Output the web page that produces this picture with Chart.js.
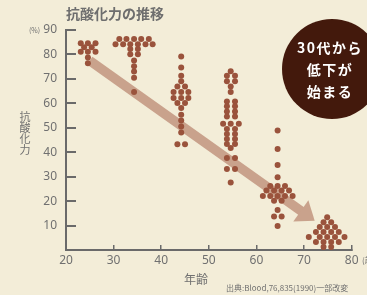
<!DOCTYPE html>
<html lang="ja">
<head>
<meta charset="utf-8">
<title>抗酸化力の推移</title>
<script src="https://cdn.jsdelivr.net/npm/chart.js@4.4.1/dist/chart.umd.min.js"></script>
<style>
  html, body { margin: 0; padding: 0; }
  body {
    width: 367px; height: 295px; overflow: hidden; position: relative;
    background: #f3edd8;
    font-family: "Noto Sans CJK JP", "Noto Sans", sans-serif;
    color: #707070;
  }
  #chart { position: absolute; left: 0; top: 0; }
  .title { position: absolute; left: 66px; top: 6px; font-size: 14px; font-weight: bold; color: #6e6e6e; line-height: 1; white-space: nowrap; }
  .ylabel { position: absolute; left: 19px; top: 111px; font-size: 11px; line-height: 1; writing-mode: vertical-rl; letter-spacing: 0; }
  .unit { position: absolute; left: 29px; top: 27px; font-size: 7px; line-height: 1; }
  .unit2 { position: absolute; left: 362px; top: 256px; font-size: 8px; line-height: 1; white-space: nowrap; }
  .xlabel { position: absolute; left: 184px; top: 273px; font-size: 12px; line-height: 1; }
  .source { position: absolute; left: 226px; top: 284px; font-size: 8px; line-height: 1; white-space: nowrap; }
  .badge {
    position: absolute; left: 282px; top: 19px; width: 100px; height: 100px;
    border-radius: 50%; background: #43190c; color: #fff;
    display: flex; flex-direction: column; justify-content: center; align-items: center;
    font-size: 14px; font-weight: bold; line-height: 22px; letter-spacing: 1.5px;
  }
  .badge span { display: block; white-space: nowrap; margin-left: -4px; }
</style>
</head>
<body>
<canvas id="chart" width="367" height="295"></canvas>
<div class="title">抗酸化力の推移</div>
<div class="unit">(%)</div>
<div class="ylabel">抗酸化力</div>
<div class="unit2">(歳)</div>
<div class="xlabel">年齢</div>
<div class="source">出典:Blood,76,835(1990)一部改変</div>
<div class="badge"><span>30代から</span><span>低下が</span><span>始まる</span></div>

<script>
// 20代
const age20s = [23.1, 24.6, 26.2, 23.8, 25.4, 23.1, 24.6, 26.2, 24.6, 24.6];
const val20s = [84.6, 84.6, 84.6, 82.9, 82.9, 81.1, 81.1, 81.1, 78.7, 76.4];

// 30代
const age30s = [31.2, 32.7, 34.3, 35.8, 37.4,
                30.4, 32.0, 33.5, 35.1, 36.7, 38.2,
                33.5, 35.1, 33.5, 35.1,
                34.3, 34.3, 34.3, 34.3, 34.3];
const val30s = [86.3, 86.3, 86.3, 86.3, 86.3,
                84.2, 84.2, 84.2, 84.2, 84.2, 84.2,
                82.2, 82.2, 80.1, 80.1,
                77.5, 75.2, 73.0, 70.5, 64.6];

// 40代
const age40s = [44.2, 44.2, 44.2, 44.2,
                43.4, 45.0, 42.6, 44.2, 45.7, 42.6, 44.2, 45.7, 43.4, 45.0,
                44.2, 44.2, 44.2, 44.2, 44.2, 43.4, 45.0];
const val40s = [79.2, 74.7, 71.3, 69.0,
                66.9, 66.9, 64.6, 64.6, 64.6, 62.2, 62.2, 62.2, 60.1, 60.1,
                58.1, 55.3, 53.0, 50.5, 48.1, 43.3, 43.3];

// 50代
const age50s = [54.6, 53.8, 55.5, 53.8, 55.5, 54.6, 54.6,
                53.8, 55.5, 53.8, 55.5, 53.8, 55.5, 53.8, 55.5,
                53.0, 54.6, 56.3,
                53.8, 55.5, 53.8, 55.5, 53.8, 55.5, 53.8, 55.5,
                54.6, 53.8, 55.5, 53.8, 55.5, 54.6];
const val50s = [73.1, 71.3, 71.3, 69.0, 69.0, 66.9, 64.6,
                60.8, 60.8, 58.8, 58.8, 56.7, 56.7, 54.6, 54.6,
                51.6, 51.6, 51.6,
                49.5, 49.5, 47.5, 47.5, 45.4, 45.4, 43.4, 43.4,
                41.7, 37.6, 37.6, 33.1, 33.1, 27.6];

// 60代
const age60s = [64.45, 64.45, 64.45, 64.45,
                62.9, 64.45, 66.0,
                62.1, 63.7, 65.3, 66.85,
                61.35, 62.9, 64.45, 66.0, 67.6,
                63.7, 65.3, 64.45, 63.7, 65.3, 64.45];
const val60s = [48.9, 41.3, 34.8, 29.8,
                26.2, 26.2, 26.2,
                24.3, 24.3, 24.3, 24.3,
                22.1, 22.1, 22.1, 22.1, 22.1,
                20.1, 20.1, 16.4, 13.7, 13.7, 9.8];

// 70代
const age70s = [74.86, 74.1, 75.7, 73.3, 74.86, 76.5,
                72.5, 74.1, 75.7, 77.3,
                71.0, 73.3, 74.86, 76.5, 78.5,
                72.5, 74.1, 75.7, 77.3,
                74.1, 75.7];
const val70s = [13.4, 11.4, 11.4, 9.4, 9.4, 9.4,
                7.4, 7.4, 7.4, 7.4,
                5.3, 5.3, 5.3, 5.3, 5.3,
                3.3, 3.3, 3.3, 3.3,
                1.2, 1.2];

const groups = [
  [age20s, val20s], [age30s, val30s], [age40s, val40s],
  [age50s, val50s], [age60s, val60s], [age70s, val70s]
];

// 矢印 (年齢, %)
const arrowFrom = [24.97, 77.5];
const arrowTo = [72.24, 12.0];

const dotColor = '#9a533c';
const axisColor = '#6a6a6a';
const labelColor = '#707070';

const arrowPlugin = {
  id: 'arrow',
  beforeDatasetsDraw(chart) {
    const ctx = chart.ctx;
    const sx = chart.scales.x, sy = chart.scales.y;
    const x0 = sx.getPixelForValue(arrowFrom[0]), y0 = sy.getPixelForValue(arrowFrom[1]);
    const x1 = sx.getPixelForValue(arrowTo[0]), y1 = sy.getPixelForValue(arrowTo[1]);
    const ang = Math.atan2(y1 - y0, x1 - x0);
    const headLen = 17, headW = 13;
    const bx = x1 - Math.cos(ang) * headLen, by = y1 - Math.sin(ang) * headLen;
    ctx.save();
    ctx.strokeStyle = '#c9a28c';
    ctx.fillStyle = '#c9a28c';
    ctx.lineWidth = 9.5;
    ctx.beginPath();
    ctx.moveTo(x0, y0);
    ctx.lineTo(bx + Math.cos(ang), by + Math.sin(ang));
    ctx.stroke();
    ctx.beginPath();
    ctx.moveTo(x1, y1);
    ctx.lineTo(bx + Math.sin(ang) * headW, by - Math.cos(ang) * headW);
    ctx.lineTo(bx - Math.sin(ang) * headW, by + Math.cos(ang) * headW);
    ctx.closePath();
    ctx.fill();
    ctx.restore();
  }
};

const chart = new Chart(document.getElementById('chart'), {
  type: 'scatter',
  data: {
    datasets: groups.map(g => ({
      data: g[0].map((a, i) => ({ x: a, y: g[1][i] })),
      backgroundColor: dotColor,
      borderWidth: 0,
      pointRadius: 3
    }))
  },
  options: {
    responsive: false,
    animation: false,
    layout: { padding: { top: 30, right: 11, left: 0, bottom: 0 } },
    plugins: { legend: { display: false }, tooltip: { enabled: false } },
    scales: {
      x: {
        type: 'linear', min: 20, max: 80,
        ticks: { stepSize: 10, color: labelColor, padding: 8.5, font: { family: 'Noto Sans', size: 12 } },
        grid: { drawOnChartArea: false, tickLength: -5, color: axisColor, lineWidth: 1.5 },
        border: { color: axisColor, width: 2 },
        afterFit(s) { s.height = 45; }
      },
      y: {
        min: 0, max: 90,
        ticks: {
          stepSize: 10, color: labelColor, padding: 19,
          font: { family: 'Noto Sans', size: 12 },
          callback: v => v === 0 ? '' : v
        },
        grid: { drawOnChartArea: false, tickLength: -10, color: axisColor, lineWidth: 2 },
        border: { color: axisColor, width: 2 },
        afterFit(s) { s.height = s.height; s.width = 66; }
      }
    }
  },
  plugins: [arrowPlugin]
});
</script>
</body>
</html>
